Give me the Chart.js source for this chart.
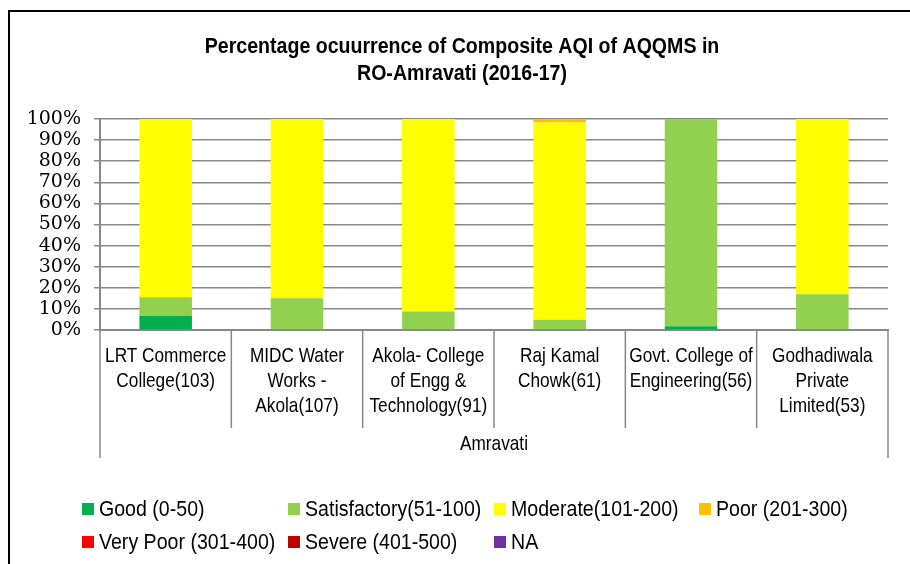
<!DOCTYPE html>
<html>
<head>
<meta charset="utf-8">
<title>Composite AQI - RO Amravati</title>
<script src="https://cdn.jsdelivr.net/npm/chart.js@4.4.1/dist/chart.umd.min.js"></script>
<style>
  html, body { margin: 0; padding: 0; background: #fff; overflow: hidden; }
  #wrap { position: relative; width: 910px; height: 564px; }
  #frame { position: absolute; left: 8px; top: 10px; width: 920px; height: 580px;
           border-top: 2px solid #000; border-left: 2px solid #000; box-sizing: border-box; }
  canvas { position: absolute; left: 0; top: 0; }
</style>
</head>
<body>
<div id="wrap">
  <div id="frame"></div>
  <canvas id="chart" width="910" height="564"></canvas>
</div>
<script>
// station names (multi-line as printed under each bar)
var stations = [
    ['LRT Commerce', 'College(103)'],
    ['MIDC Water', 'Works -', 'Akola(107)'],
    ['Akola- College', 'of Engg &', 'Technology(91)'],
    ['Raj Kamal', 'Chowk(61)'],
    ['Govt. College of', 'Engineering(56)'],
    ['Godhadiwala', 'Private', 'Limited(53)']
];
var region = 'Amravati';
var titleLines = ['Percentage ocuurrence of Composite AQI of AQQMS in', 'RO-Amravati (2016-17)'];

// percentage of days in each AQI class
var good         = [6.8, 0, 0, 0, 1.8, 0];
var satisfactory = [8.7, 15.0, 8.8, 4.9, 98.2, 17.0];
var moderate     = [84.5, 85.0, 91.2, 93.5, 0, 83.0];
var poor         = [0, 0, 0, 1.6, 0, 0];
var veryPoor     = [0, 0, 0, 0, 0, 0];
var severe       = [0, 0, 0, 0, 0, 0];
var notAvail     = [0, 0, 0, 0, 0, 0];

var yTicks = [0, 10, 20, 30, 40, 50, 60, 70, 80, 90, 100];

var sans = "'Liberation Sans', Arial, sans-serif";
var gridGrey = '#888888';

// no narrow Arial here, so squeeze the text horizontally
function narrowText(ctx, text, x, y, sx) {
    ctx.save();
    ctx.translate(x, y);
    ctx.scale(sx, 1);
    ctx.fillText(text, 0, 0);
    ctx.restore();
}

// title, category labels, dividers and the group label
var excelAxis = {
    id: 'excelAxis',
    afterDraw: function (chart) {
        var ctx = chart.ctx;
        var xs = chart.scales.x;
        var area = chart.chartArea;
        var n = chart.data.labels.length;
        ctx.save();

        // title
        ctx.fillStyle = '#000';
        ctx.textAlign = 'center';
        ctx.textBaseline = 'middle';
        ctx.font = 'bold 22px ' + sans;
        titleLines.forEach(function (t, k) {
            narrowText(ctx, t, 462, 47 + k * 27, 0.89);
        });

        // dividers
        ctx.strokeStyle = gridGrey;
        ctx.lineWidth = 1.5;
        for (var i = 0; i <= n; i++) {
            var x;
            if (i === 0) x = area.left;
            else if (i === n) x = area.right;
            else x = (xs.getPixelForValue(i - 1) + xs.getPixelForValue(i)) / 2;
            var len = (i === 0 || i === n) ? 128 : 98;
            ctx.beginPath();
            ctx.moveTo(x, area.bottom);
            ctx.lineTo(x, area.bottom + len);
            ctx.stroke();
        }

        // category labels
        ctx.font = '21px ' + sans;
        chart.data.labels.forEach(function (lab, i) {
            var cx = xs.getPixelForValue(i);
            lab.forEach(function (line, k) {
                narrowText(ctx, line, cx, area.bottom + 26 + k * 25, 0.82);
            });
        });
        narrowText(ctx, region, (area.left + area.right) / 2, area.bottom + 114, 0.82);
        ctx.restore();
    }
};

// legend laid out in columns like the original
var gridLegend = {
    id: 'gridLegend',
    afterDraw: function (chart, args, opts) {
        var ctx = chart.ctx;
        ctx.save();
        ctx.font = opts.font;
        ctx.textBaseline = 'middle';
        ctx.textAlign = 'left';
        chart.data.datasets.forEach(function (ds, i) {
            var col = i % opts.perRow;
            var row = Math.floor(i / opts.perRow);
            var x = opts.cols[col];
            var y = opts.rows[row];
            ctx.fillStyle = ds.backgroundColor;
            ctx.fillRect(x, y - 6, 12, 12);
            ctx.fillStyle = '#000';
            narrowText(ctx, ds.label, x + 17, y + 1, 0.89);
        });
        ctx.restore();
    }
};

new Chart(document.getElementById('chart'), {
    type: 'bar',
    data: {
        labels: stations,
        datasets: [
            { label: 'Good (0-50)', data: good, backgroundColor: '#00B050' },
            { label: 'Satisfactory(51-100)', data: satisfactory, backgroundColor: '#92D050' },
            { label: 'Moderate(101-200)', data: moderate, backgroundColor: '#FFFF00' },
            { label: 'Poor (201-300)', data: poor, backgroundColor: '#FFC000' },
            { label: 'Very Poor (301-400)', data: veryPoor, backgroundColor: '#FF0000' },
            { label: 'Severe (401-500)', data: severe, backgroundColor: '#C00000' },
            { label: 'NA', data: notAvail, backgroundColor: '#7030A0' }
        ]
    },
    options: {
        responsive: false,
        animation: false,
        layout: { padding: { left: 14, right: 22, top: 119, bottom: 94 } },
        datasets: { bar: { categoryPercentage: 1, barPercentage: 0.4, borderWidth: 0 } },
        plugins: {
            legend: { display: false },
            tooltip: { enabled: false },
            title: { display: false },
            gridLegend: {
                font: '22px ' + sans,
                perRow: 4,
                cols: [82, 288, 494, 699],
                rows: [509, 542]
            }
        },
        scales: {
            x: {
                stacked: true,
                grid: { display: false, drawTicks: false },
                border: { display: true, color: gridGrey, width: 2 },
                ticks: { display: false },
                afterFit: function (s) { s.height = 140; }
            },
            y: {
                stacked: true,
                min: 0,
                max: 100,
                afterBuildTicks: function (s) {
                    s.ticks = yTicks.map(function (v) { return { value: v }; });
                },
                grid: { color: gridGrey, lineWidth: 1.5, tickLength: 6, drawTicks: true },
                border: { display: true, color: gridGrey, width: 2 },
                ticks: {
                    color: '#000',
                    padding: 13,
                    autoSkip: false,
                    font: { family: 'DejaVu Serif', size: 19, lineHeight: 1.0 },
                    callback: function (v) { return v + '%'; }
                },
                afterFit: function (s) { s.width = 86; }
            }
        }
    },
    plugins: [excelAxis, gridLegend]
});
</script>
</body>
</html>
